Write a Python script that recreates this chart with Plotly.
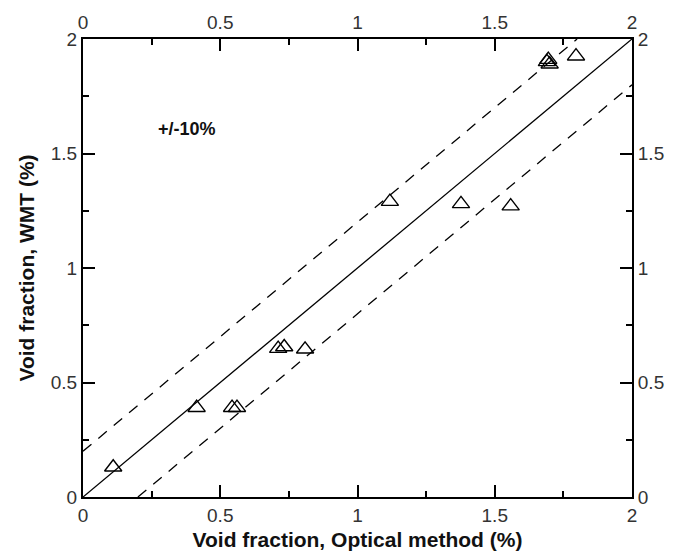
import plotly.graph_objects as go

# ---- data ----
x_optical = [0.11, 0.414, 0.543, 0.561, 0.711, 0.733, 0.809, 1.118, 1.377, 1.558, 1.690, 1.700, 1.695, 1.796]
y_wmt     = [0.13, 0.390, 0.390, 0.390, 0.648, 0.655, 0.645, 1.290, 1.280, 1.270, 1.900, 1.890, 1.910, 1.925]

diag_x = [0, 2]
diag_y = [0, 2]
band = 0.2          # +/-10 % of full scale (2 %)
axis_range = [0, 2]
tick_step = 0.5
minor_step = 0.25

x_title = "Void fraction, Optical method (%)"
y_title = "Void fraction, WMT (%)"
band_label = "+/-10%"

FONT = "Liberation Sans, Arial, sans-serif"

fig = go.Figure()

# identity line
fig.add_trace(go.Scatter(x=diag_x, y=diag_y, mode="lines",
                         line=dict(color="black", width=1.3),
                         hoverinfo="skip", showlegend=False))
# +/- band lines
fig.add_trace(go.Scatter(x=[diag_x[0], diag_x[1] - band], y=[diag_y[0] + band, diag_y[1]],
                         mode="lines", line=dict(color="black", width=1.3, dash="11px,9px"),
                         hoverinfo="skip", showlegend=False))
fig.add_trace(go.Scatter(x=[diag_x[0] + band, diag_x[1]], y=[diag_y[0], diag_y[1] - band],
                         mode="lines", line=dict(color="black", width=1.3, dash="11px,9px"),
                         hoverinfo="skip", showlegend=False))
# data
fig.add_trace(go.Scatter(x=x_optical, y=y_wmt, mode="markers",
                         marker=dict(symbol="triangle-up-open", size=15,
                                     color="black", line=dict(color="black", width=1.4)),
                         showlegend=False))
# invisible trace to activate top / right axes
fig.add_trace(go.Scatter(x=[axis_range[0]], y=[axis_range[0]], xaxis="x2", yaxis="y2",
                         mode="markers", marker=dict(opacity=0), hoverinfo="skip",
                         showlegend=False))

common = dict(range=axis_range, tick0=0, dtick=tick_step, ticks="inside",
              ticklen=12, tickwidth=2, tickcolor="black",
              showline=True, linewidth=2, linecolor="black",
              showgrid=False, zeroline=False,
              tickfont=dict(family=FONT, size=19, color="#333333"),
              minor=dict(ticks="inside", ticklen=6, tickwidth=1.5, tickcolor="black",
                         dtick=minor_step, tick0=0, showgrid=False),
              fixedrange=True)

fig.update_layout(
    width=682, height=560,
    margin=dict(l=83, r=50, t=32, b=56),
    paper_bgcolor="white", plot_bgcolor="white",
    font=dict(family=FONT, color="black"),
    xaxis=dict(**common, title=dict(text=x_title, standoff=8,
                                    font=dict(family=FONT, size=21, color="#111111", weight="bold"))),
    yaxis=dict(**common, title=dict(text=y_title, standoff=10,
                                    font=dict(family=FONT, size=21, color="#111111", weight="bold"))),
    xaxis2=dict(**common, overlaying="x", side="top", anchor="y", matches="x"),
    yaxis2=dict(**common, overlaying="y", side="right", anchor="x", matches="y"),
    annotations=[dict(x=0.38, y=1.606, xref="x", yref="y", text="<b>" + band_label + "</b>",
                      showarrow=False, font=dict(family=FONT, size=18, color="#111111"))],
)

fig.write_html("out.html")
